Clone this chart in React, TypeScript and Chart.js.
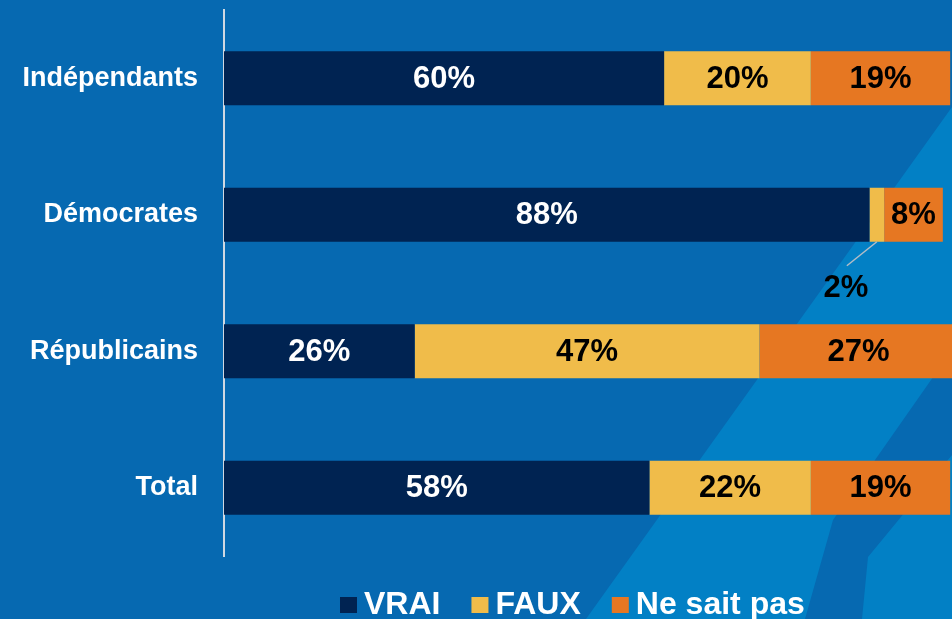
import { useEffect, useRef } from "react";
import { Chart, registerables } from "chart.js";

Chart.register(...registerables);

const categories = ["Indépendants", "Démocrates", "Républicains", "Total"];
const vrai = [60, 88, 26, 58];
const faux = [20, 2, 47, 22];
const nsp = [19, 8, 27, 19];
const seriesNames = ["VRAI", "FAUX", "Ne sait pas"];
const seriesColors = ["#002352", "#F0BC4A", "#E67722"];
const labelColors = ["#ffffff", "#000000", "#000000"];

const FONT = '"Liberation Sans", Arial, Helvetica, sans-serif';
const BG_MAIN = "#0669b1";
const BG_LIGHT = "#0280c5";

const bgPlugin = {
  id: "bgPlugin",
  beforeDraw(chart: any) {
    const { ctx, width: w, height: h } = chart;
    ctx.save();
    ctx.fillStyle = BG_MAIN;
    ctx.fillRect(0, 0, w, h);
    ctx.fillStyle = BG_LIGHT;
    ctx.beginPath();
    ctx.moveTo(w, 107);
    ctx.lineTo(w, h);
    ctx.lineTo(w - 366, h);
    ctx.closePath();
    ctx.fill();
    ctx.fillStyle = BG_MAIN;
    ctx.beginPath();
    ctx.moveTo(w, 350);
    ctx.lineTo(w, 455);
    ctx.lineTo(w - 84, 557);
    ctx.lineTo(w - 90, h);
    ctx.lineTo(w - 147, h);
    ctx.lineTo(w - 119, 520);
    ctx.closePath();
    ctx.fill();
    ctx.restore();
  },
};

const labelPlugin = {
  id: "labelPlugin",
  afterDatasetsDraw(chart: any) {
    const { ctx } = chart;
    ctx.save();
    ctx.font = `bold 31px ${FONT}`;
    ctx.textAlign = "center";
    ctx.textBaseline = "middle";
    chart.data.datasets.forEach((ds: any, di: number) => {
      const meta = chart.getDatasetMeta(di);
      meta.data.forEach((bar: any, i: number) => {
        const v = ds.data[i];
        const { x, y, base, height } = bar.getProps(["x", "y", "base", "height"], true);
        const cx = (x + base) / 2;
        if (v < 5) {
          const bottom = y + height / 2;
          ctx.strokeStyle = "#b4bcc6";
          ctx.lineWidth = 1.5;
          ctx.beginPath();
          ctx.moveTo(cx, bottom);
          ctx.lineTo(cx - 30, bottom + 24);
          ctx.stroke();
          ctx.fillStyle = "#000000";
          ctx.fillText(`${v}%`, cx - 31, bottom + 47);
        } else {
          ctx.fillStyle = labelColors[di];
          ctx.fillText(`${v}%`, cx, y + 1);
        }
      });
    });
    ctx.restore();
  },
};

const legendPlugin = {
  id: "legendPlugin",
  afterDraw(chart: any) {
    const { ctx } = chart;
    ctx.save();
    ctx.font = `bold 32px ${FONT}`;
    ctx.textAlign = "left";
    ctx.textBaseline = "alphabetic";
    let x = 340;
    chart.data.datasets.forEach((ds: any) => {
      ctx.fillStyle = ds.backgroundColor;
      ctx.fillRect(x, 597, 17, 16);
      x += 17 + 7;
      ctx.fillStyle = "#ffffff";
      ctx.fillText(ds.label, x, 614);
      x += ctx.measureText(ds.label).width + 31;
    });
    ctx.restore();
  },
};

export default function App() {
  const ref = useRef<HTMLCanvasElement>(null);
  useEffect(() => {
    const chart = new Chart(ref.current!, {
      type: "bar",
      data: {
        labels: categories,
        datasets: [vrai, faux, nsp].map((d, i) => ({
          label: seriesNames[i],
          data: d,
          backgroundColor: seriesColors[i],
          borderWidth: 0,
          barPercentage: 1,
          categoryPercentage: 54 / 136.5,
        })),
      },
      options: {
        indexAxis: "y",
        responsive: false,
        animation: false,
        events: [],
        layout: { padding: { top: 10, bottom: 63, left: 0, right: 0 } },
        plugins: { legend: { display: false }, tooltip: { enabled: false } },
        scales: {
          x: { stacked: true, display: false, min: 0, max: 99.25 },
          y: {
            stacked: true,
            grid: { display: false, drawTicks: false },
            border: { display: true, color: "#cfd8e2", width: 2 },
            ticks: {
              color: "#ffffff",
              font: { family: FONT, size: 27, weight: "bold" },
              padding: 26,
            },
            afterFit(s: any) {
              s.width = 224;
              s.paddingTop = 0;
              s.paddingBottom = 0;
            },
          },
        },
      } as any,
      plugins: [bgPlugin, labelPlugin, legendPlugin],
    });
    return () => chart.destroy();
  }, []);
  return (
    <div style={{ position: "absolute", left: 0, top: 0, width: 952, height: 619, overflow: "hidden" }}>
      <canvas ref={ref} width={952} height={619} style={{ display: "block", width: 952, height: 619 }} />
    </div>
  );
}
